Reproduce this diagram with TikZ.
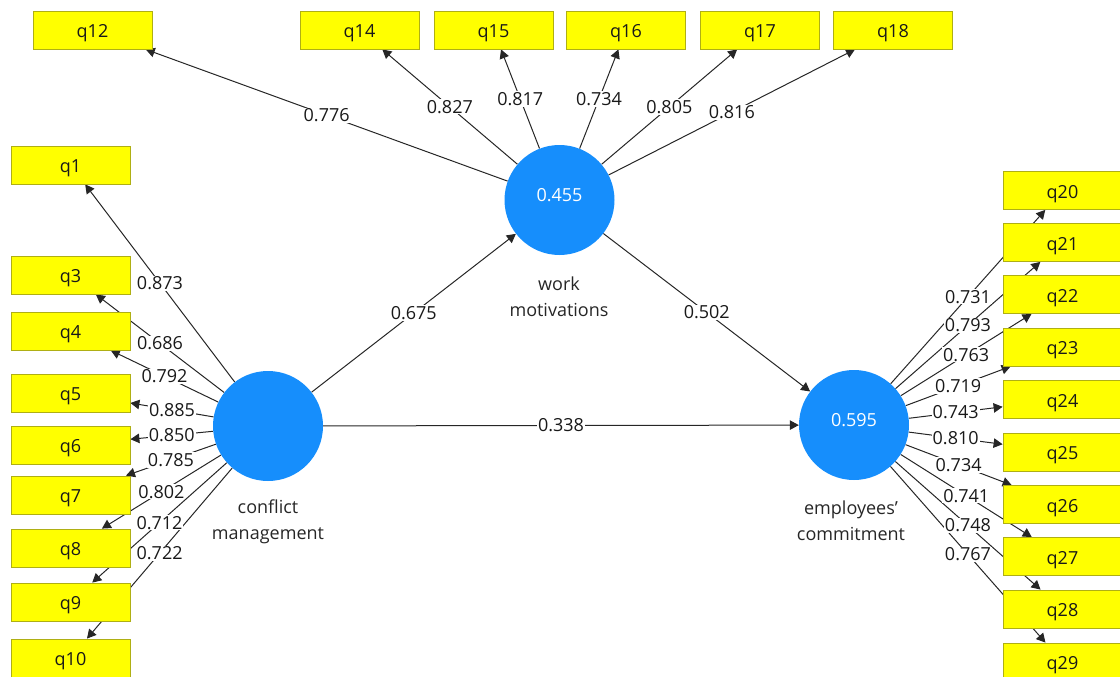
\documentclass[tikz,border=0pt]{standalone}
\usepackage{fontspec}
\setmainfont{Open Sans}
\usetikzlibrary{arrows.meta}
\pgfdeclarelayer{lines}
\pgfdeclarelayer{labels}
\pgfsetlayers{lines,labels,main}
\definecolor{lvblue}{RGB}{22,142,252}
\definecolor{boxyellow}{RGB}{255,255,0}
\definecolor{boxedge}{RGB}{175,175,20}
\newcommand\linkw[3]{%
  \begin{pgfonlayer}{lines}\draw[ld] (#1) -- (#2);\end{pgfonlayer}%
  \begin{pgfonlayer}{labels}\path (#1) -- node[wt]{#3} (#2);\end{pgfonlayer}}
\begin{document}
\begin{tikzpicture}[x=1pt,y=-1pt,
  ind/.style={draw=boxedge, fill=boxyellow, minimum width=119pt, minimum height=38pt,
    inner sep=0pt, line width=0.8pt, font=\fontsize{18}{20}\selectfont, text=black!90,
    text height=16pt, text depth=1pt},
  lv/.style={circle, fill=lvblue, minimum size=110pt, inner sep=0pt, text=white,
    font=\fontsize{18}{20}\selectfont, text height=13pt, text depth=10pt},
  lvname/.style={align=center, font=\fontsize{18}{26}\selectfont, text=black!85},
  ld/.style={-{Triangle[length=9pt,width=9.5pt]}, line width=1pt, draw=black!85},
  wt/.style={fill=white, inner sep=1pt, font=\fontsize{18}{20}\selectfont, text=black!90}]
\useasboundingbox (0,0) rectangle (1120,677);
% latent variables
\node[lv] (cm) at (268,426) {};
\node[lv] (wm) at (559.5,200) {0.455};
\node[lv] (ec) at (854,425) {0.595};
\node[lvname] (cmn) at (268,522) {conflict\\management};
\node[lvname] (wmn) at (559,297) {work\\motivations};
\node[lvname] (ecn) at (851,521) {employees'\\commitment};
% left indicators
\node[ind] (q1) at (70.5,165) {q1};
\node[ind] (q3) at (70.5,275) {q3};
\node[ind] (q4) at (70.5,331) {q4};
\node[ind] (q5) at (70.5,393) {q5};
\node[ind] (q6) at (70.5,445) {q6};
\node[ind] (q7) at (70.5,495) {q7};
\node[ind] (q8) at (70.5,548) {q8};
\node[ind] (q9) at (70.5,602) {q9};
\node[ind] (q10) at (70.5,658) {q10};
% top indicators
\node[ind] (q12) at (92.5,30) {q12};
\node[ind] (q14) at (359.5,30) {q14};
\node[ind] (q15) at (493.5,30) {q15};
\node[ind] (q16) at (626,30) {q16};
\node[ind] (q17) at (760,30) {q17};
\node[ind] (q18) at (893,30) {q18};
% right indicators
\node[ind] (q20) at (1062.5,190.5) {q20};
\node[ind] (q21) at (1062.5,242.5) {q21};
\node[ind] (q22) at (1062.5,294.5) {q22};
\node[ind] (q23) at (1062.5,347) {q23};
\node[ind] (q24) at (1062.5,399.5) {q24};
\node[ind] (q25) at (1062.5,452) {q25};
\node[ind] (q26) at (1062.5,504.5) {q26};
\node[ind] (q27) at (1062.5,556.5) {q27};
\node[ind] (q28) at (1062.5,609) {q28};
\node[ind] (q29) at (1062.5,662) {q29};
% structural paths
\linkw{cm}{wm}{0.675}
\linkw{wm}{ec}{0.502}
\linkw{cm}{ec}{0.338}
% conflict management loadings
\linkw{cm}{q1}{0.873}
\linkw{cm}{q3}{0.686}
\linkw{cm}{q4}{0.792}
\linkw{cm}{q5}{0.885}
\linkw{cm}{q6}{0.850}
\linkw{cm}{q7}{0.785}
\linkw{cm}{q8}{0.802}
\linkw{cm}{q9}{0.712}
\linkw{cm}{q10}{0.722}
% work motivations loadings
\linkw{wm}{q12}{0.776}
\linkw{wm}{q14}{0.827}
\linkw{wm}{q15}{0.817}
\linkw{wm}{q16}{0.734}
\linkw{wm}{q17}{0.805}
\linkw{wm}{q18}{0.816}
% employees' commitment loadings
\linkw{ec}{q20}{0.731}
\linkw{ec}{q21}{0.793}
\linkw{ec}{q22}{0.763}
\linkw{ec}{q23}{0.719}
\linkw{ec}{q24}{0.743}
\linkw{ec}{q25}{0.810}
\linkw{ec}{q26}{0.734}
\linkw{ec}{q27}{0.741}
\linkw{ec}{q28}{0.748}
\linkw{ec}{q29}{0.767}
\end{tikzpicture}
\end{document}
